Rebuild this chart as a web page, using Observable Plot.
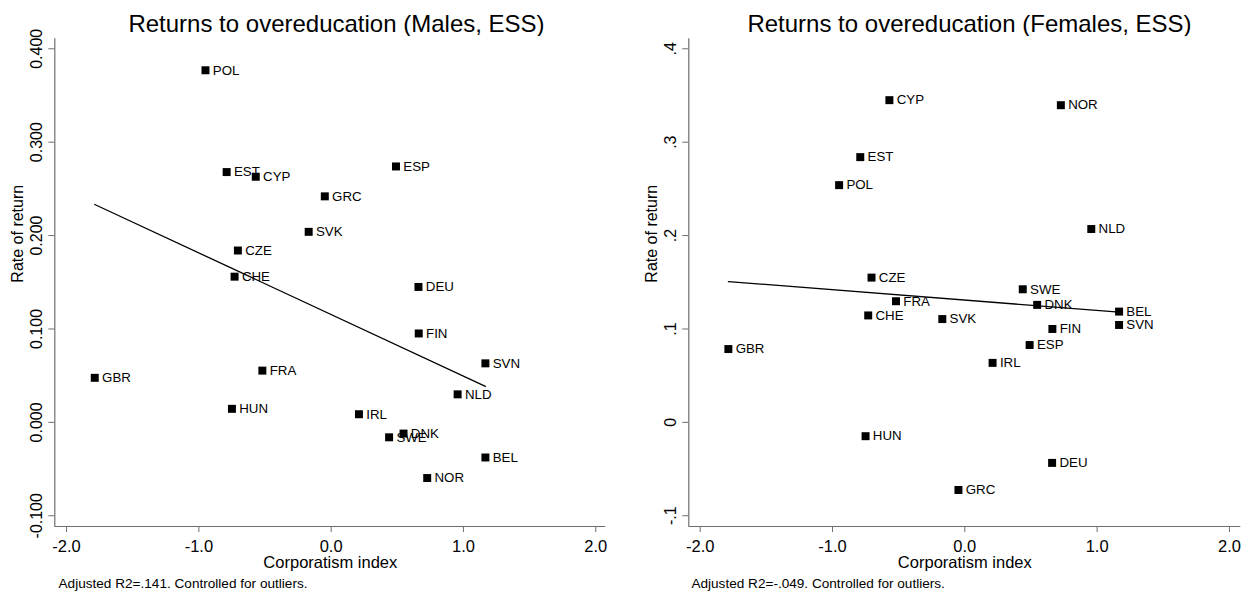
<!DOCTYPE html>
<html>
<head>
<meta charset="utf-8">
<script src="https://cdn.jsdelivr.net/npm/d3@7"></script>
<script src="https://cdn.jsdelivr.net/npm/@observablehq/plot@0.6"></script>
<style>
  html, body { margin: 0; padding: 0; background: #fff; }
  #wrap { position: relative; width: 1250px; height: 596px; overflow: hidden; background: #fff;
          font-family: "Liberation Sans", Arial, sans-serif; color: #000; }
  .title { position: absolute; top: 12px; font-size: 24px; line-height: 24px; white-space: nowrap;
           transform: translateX(-50%); }
  .chart { position: absolute; top: 36px; }
  .caption { position: absolute; top: 577px; font-size: 13.6px; line-height: 14px; white-space: nowrap; }
</style>
</head>
<body>
<div id="wrap">
  <div class="title" id="titleM" style="left:336.5px"></div>
  <div class="title" id="titleF" style="left:969.5px"></div>
  <div class="chart" id="chartM" style="left:0px"></div>
  <div class="chart" id="chartF" style="left:625px"></div>
  <div class="caption" id="capM" style="left:58.5px"></div>
  <div class="caption" id="capF" style="left:691.4px"></div>
</div>
<script>
// ---- data ----
const countries   = ["POL","EST","CYP","CZE","CHE","SVK","ESP","GRC","DEU","GBR","FRA","HUN","FIN","SVN","NLD","IRL","DNK","SWE","BEL","NOR"];
const corporatism = [-0.95,-0.79,-0.57,-0.705,-0.73,-0.17,0.49,-0.048,0.66,-1.787,-0.52,-0.75,0.662,1.166,0.956,0.21,0.547,0.438,1.166,0.726];
const returnMales   = [0.377,0.268,0.263,0.184,0.156,0.204,0.274,0.242,0.145,0.0477,0.0554,0.0145,0.0952,0.0632,0.030,0.0087,-0.012,-0.016,-0.0376,-0.0596];
const returnFemales = [0.254,0.284,0.345,0.155,0.1145,0.1106,0.0828,-0.0724,-0.0434,0.0785,0.1297,-0.0148,0.100,0.1043,0.207,0.0637,0.1258,0.1425,0.1186,0.3396];

// fitted line endpoints (at min and max corporatism)
const fitX = [-1.787, 1.166];
const fitMales = [0.2333, 0.0386];
const fitFemales = [0.1508, 0.118];

const xTicks = [-2, -1, 0, 1, 2];
const xTickLabels = ["-2.0", "-1.0", "0.0", "1.0", "2.0"];
const yTicks = [-0.1, 0, 0.1, 0.2, 0.3, 0.4];
const yTickLabelsMales = ["-0.100", "0.000", "0.100", "0.200", "0.300", "0.400"];
const yTickLabelsFemales = ["-.1", "0", ".1", ".2", ".3", ".4"];

const titles = ["Returns to overeducation (Males, ESS)", "Returns to overeducation (Females, ESS)"];
const captions = ["Adjusted R2=.141. Controlled for outliers.", "Adjusted R2=-.049. Controlled for outliers."];
const xLabel = "Corporatism index";
const yLabel = "Rate of return";

const yDomain = [-0.1115, 0.4107];
const axisGray = "#6e6e6e";
const font = "Liberation Sans, Arial, sans-serif";

function panel(yVals, fit, yLabels, xDomain, marginLeft, marginRight) {
  const data = countries.map((c, i) => ({c, x: corporatism[i], y: yVals[i]}));
  const fitData = fitX.map((x, i) => ({x, y: fit[i]}));
  return Plot.plot({
    width: 625,
    height: 540,
    marginTop: 2.3,
    marginBottom: 50,
    marginLeft,
    marginRight,
    x: {domain: xDomain},
    y: {domain: yDomain},
    style: {fontFamily: font, fontSize: "16px", background: "white", color: "black", overflow: "visible"},
    marks: [
      Plot.ruleX([xDomain[0]], {stroke: axisGray, strokeWidth: 1.2}),
      Plot.ruleY([yDomain[0]], {stroke: axisGray, strokeWidth: 1.2}),
      Plot.axisX({ticks: xTicks, tickFormat: d => xTickLabels[xTicks.indexOf(d)], tickSize: 6, tickPadding: 8,
                  stroke: axisGray, fill: "black", fontSize: 16.5, label: null}),
      Plot.axisY({ticks: yTicks, tickFormat: d => yLabels[yTicks.indexOf(d)], tickSize: 6, tickPadding: 6.5,
                  tickRotate: -90, stroke: axisGray, fill: "black", fontSize: 16, label: null}),
      Plot.text([xLabel], {frameAnchor: "bottom", dy: 41, lineAnchor: "bottom", fontSize: 16.5, fill: "black"}),
      Plot.text([yLabel], {frameAnchor: "left", rotate: -90, dx: -31.5, lineAnchor: "bottom", fontSize: 16, fill: "black"}),
      Plot.line(fitData, {x: "x", y: "y", stroke: "black", strokeWidth: 1.3}),
      Plot.dot(data, {x: "x", y: "y", symbol: "square", r: 4.5, fill: "black", stroke: null}),
      Plot.text(data, {x: "x", y: "y", text: "c", dx: 7.3, textAnchor: "start", fontSize: 13.3, fill: "black"})
    ]
  });
}

document.getElementById("titleM").textContent = titles[0];
document.getElementById("titleF").textContent = titles[1];
document.getElementById("capM").textContent = captions[0];
document.getElementById("capF").textContent = captions[1];
document.getElementById("chartM").appendChild(panel(returnMales, fitMales, yTickLabelsMales, [-2.089, 2.076], 54.3, 19.7));
document.getElementById("chartF").appendChild(panel(returnFemales, fitFemales, yTickLabelsFemales, [-2.086, 2.086], 63.3, 9.7));
</script>
</body>
</html>
